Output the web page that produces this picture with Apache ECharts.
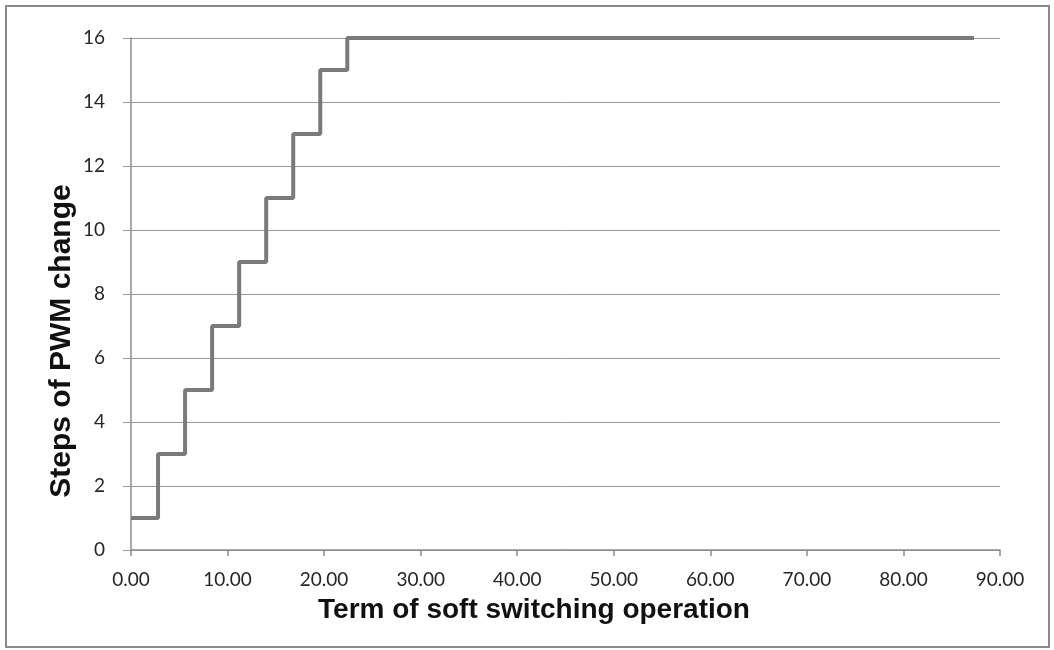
<!DOCTYPE html>
<html>
<head>
<meta charset="utf-8">
<script src="https://cdn.jsdelivr.net/npm/echarts@6/dist/echarts.min.js"></script>
<style>
  html, body { margin: 0; padding: 0; background: #fff; }
  #chart { width: 1054px; height: 650px; }
</style>
</head>
<body>
<div id="chart"></div>
<script>
// Switching term (x) at which each PWM step level begins
const termValues = [0, 2.8, 5.6, 8.4, 11.2, 14.0, 16.8, 19.6, 22.4, 87.3];
// PWM step level held from that term onward
const stepValues = [1, 3, 5, 7, 9, 11, 13, 15, 16, 16];

const xTitle = 'Term of soft switching operation';
const yTitle = 'Steps of PWM change';

const points = termValues.map((t, i) => [t, stepValues[i]]);

const titleFont = 'Liberation Sans, Arial, sans-serif';
const tickFont = 'Lato, Calibri, sans-serif';

const chart = echarts.init(document.getElementById('chart'), null, { renderer: 'canvas' });

chart.setOption({
  animation: false,
  backgroundColor: '#ffffff',
  graphic: [
    {
      type: 'rect',
      shape: { x: 6, y: 6, width: 1043, height: 641 },
      style: { fill: 'none', stroke: '#8a8a8a', lineWidth: 2 },
      silent: true
    },
    {
      type: 'text',
      x: 534, y: 610,
      style: {
        text: xTitle,
        font: 'bold 28px ' + titleFont,
        fill: '#111',
        textAlign: 'center',
        textVerticalAlign: 'middle'
      },
      silent: true
    },
    {
      type: 'text',
      x: 62, y: 341,
      rotation: Math.PI / 2,
      style: {
        text: yTitle,
        font: 'bold 30px ' + titleFont,
        fill: '#111',
        textAlign: 'center',
        textVerticalAlign: 'middle'
      },
      silent: true
    }
  ],
  grid: { left: 131, right: 54, top: 38, bottom: 100, containLabel: false },
  xAxis: {
    type: 'value',
    min: 0, max: 90, interval: 10,
    axisLine: { show: true, lineStyle: { color: '#8c8c8c', width: 1.5 } },
    axisTick: { show: true, length: 6, lineStyle: { color: '#8c8c8c', width: 1.5 } },
    axisLabel: {
      margin: 20,
      fontFamily: tickFont, fontSize: 19, color: '#262626',
      formatter: v => v.toFixed(2)
    },
    splitLine: { show: false }
  },
  yAxis: {
    type: 'value',
    min: 0, max: 16, interval: 2,
    axisLine: { show: true, lineStyle: { color: '#8c8c8c', width: 1.5 } },
    axisTick: { show: true, length: 8, lineStyle: { color: '#9a9a9a', width: 1 } },
    axisLabel: {
      margin: 26,
      fontFamily: tickFont, fontSize: 19, color: '#262626'
    },
    splitLine: { show: true, lineStyle: { color: '#9a9a9a', width: 1 } }
  },
  series: [{
    type: 'line',
    step: 'end',
    data: points,
    showSymbol: false,
    symbol: 'none',
    clip: false,
    lineStyle: { color: '#7a7a7a', width: 4 }
  }]
});
</script>
</body>
</html>
